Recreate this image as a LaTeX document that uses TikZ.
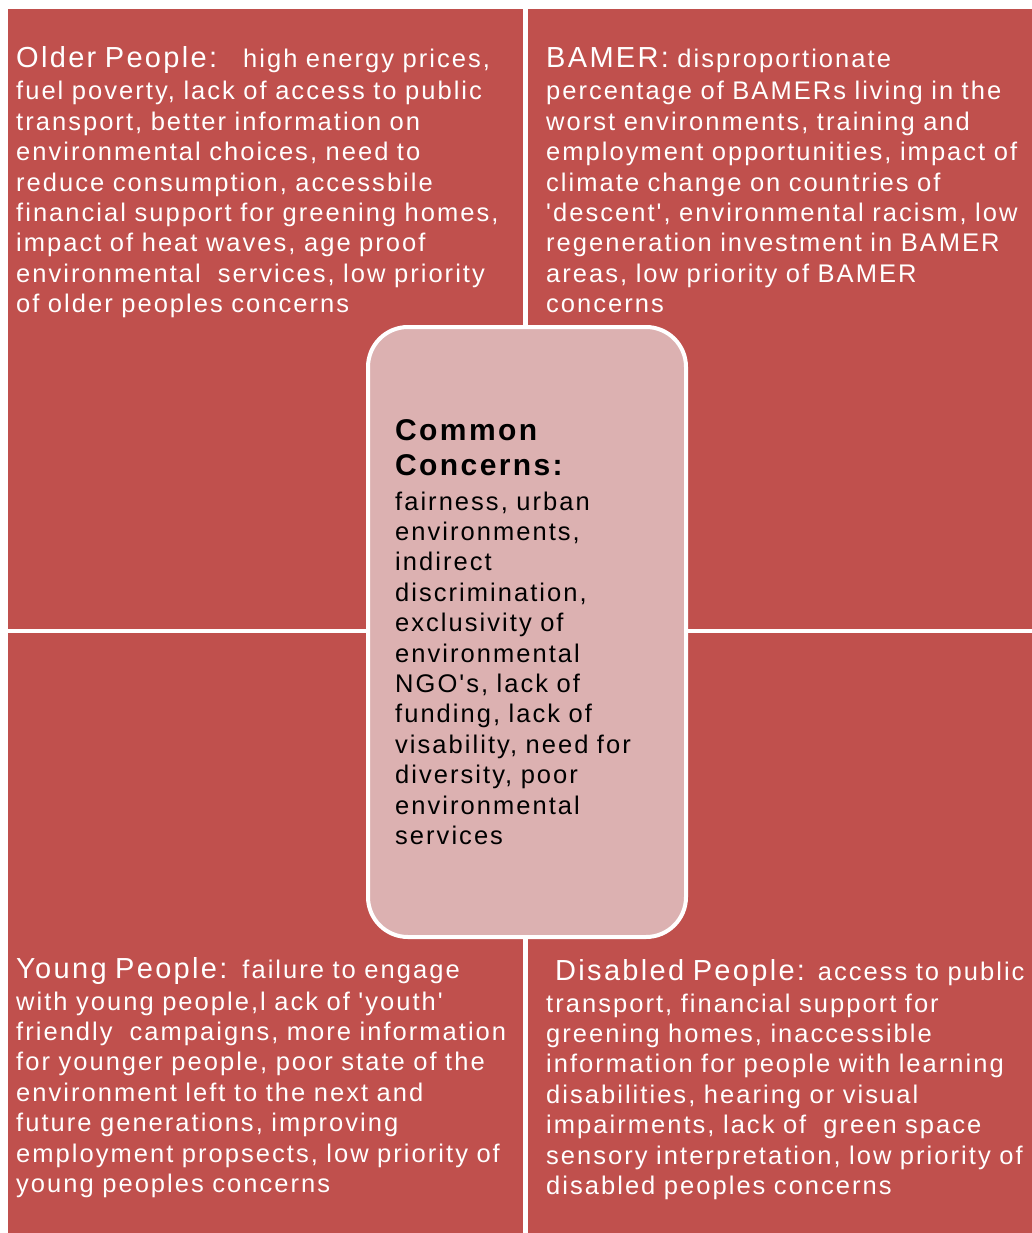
\documentclass[tikz,border=0pt]{standalone}
\usepackage{fontspec}
\setmainfont{Liberation Sans}
\newfontfamily\quadfont[LetterSpace=8]{Liberation Sans}
\definecolor{quadred}{HTML}{C0504D}
\definecolor{commonpink}{HTML}{DCB1B1}

\tikzset{
  quadtext/.style={text=white, inner sep=0pt, align=left, text width=640pt,
    anchor=base west, font=\quadfont\fontsize{25.5}{30.4}\selectfont},
  commontext/.style={quadtext, text=black},
  commonbox/.style={draw=white, line width=4pt, fill=commonpink,
    rounded corners=40pt, minimum width=318pt, minimum height=610pt}
}
\newcommand{\heading}[1]{{\fontsize{29}{30.4}\selectfont #1}}

\begin{document}
\begin{tikzpicture}[x=1pt, y=-1pt]
      \useasboundingbox (0,0) rectangle (1032,1233);
      \fill[white] (0,0) rectangle (1032,1233);

      % the four groups
      \fill[quadred] (8,9) rectangle (523,629);
      \fill[quadred] (528,9) rectangle (1032,629);
      \fill[quadred] (8,633) rectangle (523,1233);
      \fill[quadred] (528,633) rectangle (1032,1233);

      \node[quadtext] (older) at (16,68) {\heading{Older People:}\hspace{26pt}high energy prices,\\[1.6pt]
        fuel poverty, lack of access to public\\
        transport, better information on\\
        environmental choices, need to\\
        reduce consumption, accessbile\\
        financial support for greening homes,\\
        impact of heat waves, age proof\\
        environmental\ \ services, low priority\\
        of older peoples concerns};

      \node[quadtext] (bamer) at (546,68) {\heading{BAMER:} disproportionate\\[1.6pt]
        percentage of BAMERs living in the\\
        worst environments, training and\\
        employment opportunities, impact of\\
        climate change on countries of\\
        'descent', environmental racism, low\\
        regeneration investment in BAMER\\
        areas, low priority of BAMER\\
        concerns};

      \node[quadtext] (young) at (16,978) {\heading{Young People:}\hspace{15pt}failure to engage\\[1.6pt]
        with young people,l ack of 'youth'\\
        friendly\ \ campaigns, more information\\
        for younger people, poor state of the\\
        environment left to the next and\\
        future generations, improving\\
        employment propsects, low priority of\\
        young peoples concerns};

      \node[quadtext] (disabled) at (546,980) {\hspace*{9pt}\heading{Disabled People:} access to public\\[1.6pt]
        transport, financial support for\\
        greening homes, inaccessible\\
        information for people with learning\\
        disabilities, hearing or visual\\
        impairments, lack of\ \ green space\\
        sensory interpretation, low priority of\\
        disabled peoples concerns};

      % common concerns in the middle
      \node[commonbox] (commonframe) at (527,632) {};
      \node[commontext] (common) at (395,440) {{\fontsize{30}{30.4}\selectfont\bfseries Common}\\[4.6pt]
        {\fontsize{30}{30.4}\selectfont\bfseries Concerns:}\\[4.6pt]
        fairness, urban\\
        environments,\\
        indirect\\
        discrimination,\\
        exclusivity of\\
        environmental\\
        NGO's, lack of\\
        funding, lack of\\
        visability, need for\\
        diversity, poor\\
        environmental\\
        services};
    \end{tikzpicture}
\end{document}
